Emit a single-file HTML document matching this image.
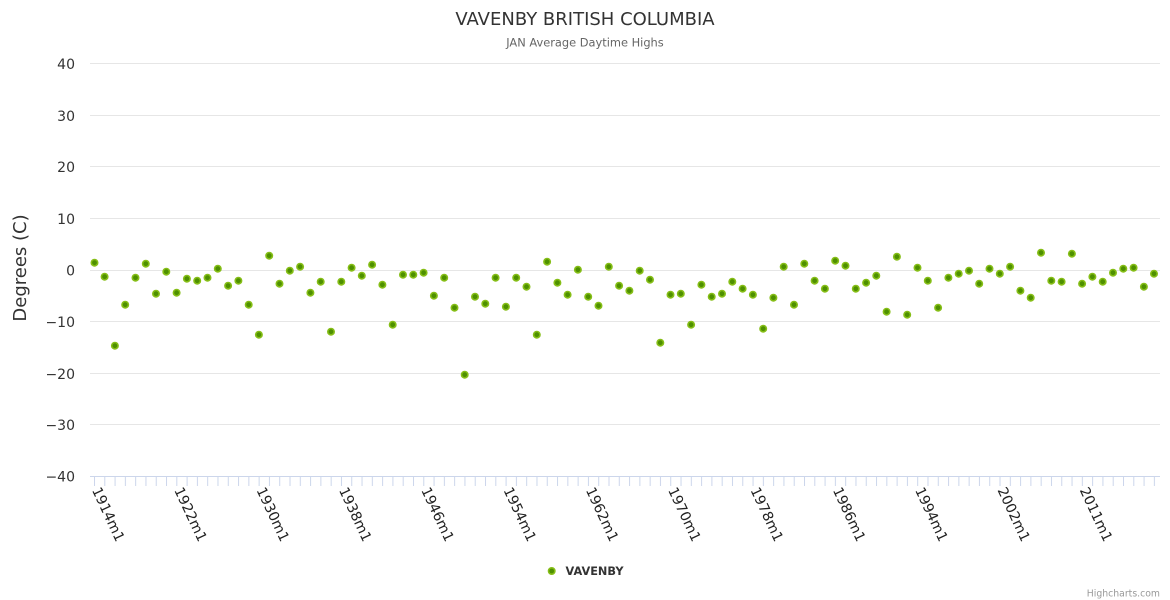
<!DOCTYPE html>
<html>
<head>
<meta charset="utf-8">
<style>
html,body{margin:0;padding:0;background:#fff}
svg{display:block;font-family:"DejaVu Sans","Liberation Sans",sans-serif}
</style>
</head>
<body>
<svg width="1170" height="600" viewBox="0 0 1170 600" xmlns="http://www.w3.org/2000/svg">
<defs>
<marker id="dot" markerUnits="userSpaceOnUse" markerWidth="10" markerHeight="10" refX="5" refY="5" overflow="visible">
<circle cx="5" cy="5" r="3.2" fill="#4e9000" stroke="#86be17" stroke-width="1.6"/>
</marker>
<pattern id="tick" patternUnits="userSpaceOnUse" x="94" y="476" width="10.29" height="10">
<rect x="0" y="0" width="1" height="10" fill="#ccd6eb"/>
</pattern>
</defs>
<rect width="1170" height="600" fill="#fff"/>
<text x="585" y="25" text-anchor="middle" font-size="18" fill="#333">VAVENBY BRITISH COLUMBIA</text>
<text x="585" y="46.5" text-anchor="middle" font-size="11.4" fill="#666">JAN Average Daytime Highs</text>
<path d="M90 63.5H1160M90 115.5H1160M90 166.5H1160M90 218.5H1160M90 270.5H1160M90 321.5H1160M90 373.5H1160M90 424.5H1160" stroke="#e6e6e6" stroke-width="1" fill="none"/>
<rect x="90" y="476" width="1066" height="10" fill="url(#tick)"/>
<path d="M90 476.5H1160" stroke="#ccd6eb" stroke-width="1" fill="none"/>
<g font-size="14" fill="#333" text-anchor="end">
<text x="75" y="69">40</text>
<text x="75" y="121">30</text>
<text x="75" y="172">20</text>
<text x="75" y="224">10</text>
<text x="75" y="275.5">0</text>
<text x="75" y="327">−10</text>
<text x="75" y="379">−20</text>
<text x="75" y="430">−30</text>
<text x="75" y="481.5">−40</text>
</g>
<text x="26" y="268" text-anchor="middle" font-size="18" fill="#333" transform="rotate(-90 26 268)">Degrees (C)</text>
<g font-size="14" fill="#222">
<text x="91.7" y="490" transform="rotate(65 91.7 490)">1914m1</text>
<text x="174" y="490" transform="rotate(65 174 490)">1922m1</text>
<text x="256.3" y="490" transform="rotate(65 256.3 490)">1930m1</text>
<text x="338.7" y="490" transform="rotate(65 338.7 490)">1938m1</text>
<text x="421" y="490" transform="rotate(65 421 490)">1946m1</text>
<text x="503.3" y="490" transform="rotate(65 503.3 490)">1954m1</text>
<text x="585.6" y="490" transform="rotate(65 585.6 490)">1962m1</text>
<text x="667.9" y="490" transform="rotate(65 667.9 490)">1970m1</text>
<text x="750.3" y="490" transform="rotate(65 750.3 490)">1978m1</text>
<text x="832.6" y="490" transform="rotate(65 832.6 490)">1986m1</text>
<text x="914.9" y="490" transform="rotate(65 914.9 490)">1994m1</text>
<text x="997.2" y="490" transform="rotate(65 997.2 490)">2002m1</text>
<text x="1079.5" y="490" transform="rotate(65 1079.5 490)">2011m1</text>
</g>
<path fill="none" stroke="none" marker-start="url(#dot)" marker-mid="url(#dot)" marker-end="url(#dot)" d="M94.5,262.7 104.6,276.7 114.9,345.7 125.2,304.7 135.5,277.7 145.8,263.7 156,293.7 166.3,271.7 176.6,292.7 186.9,278.7 197.2,280.7 207.5,277.7 217.8,268.7 228.1,285.7 238.4,280.7 248.7,304.7 258.9,334.7 269.2,255.7 279.5,283.7 289.8,270.7 300.1,266.7 310.4,292.7 320.7,281.7 331,331.7 341.3,281.7 351.6,267.7 361.8,275.7 372.1,264.7 382.4,284.7 392.7,324.7 403,274.7 413.3,274.7 423.6,272.7 433.9,295.7 444.2,277.7 454.5,307.7 464.7,374.7 475,296.7 485.3,303.7 495.6,277.7 505.9,306.7 516.2,277.7 526.5,286.7 536.8,334.7 547.1,261.7 557.4,282.7 567.6,294.7 577.9,269.7 588.2,296.7 598.5,305.7 608.8,266.7 619.1,285.7 629.4,290.7 639.7,270.7 650,279.7 660.3,342.7 670.5,294.7 680.8,293.7 691.1,324.7 701.4,284.7 711.7,296.7 722,293.7 732.3,281.7 742.6,288.7 752.9,294.7 763.2,328.7 773.4,297.7 783.7,266.7 794,304.7 804.3,263.7 814.6,280.7 824.9,288.7 835.2,260.7 845.5,265.7 855.8,288.7 866.1,282.7 876.3,275.7 886.6,311.7 896.9,256.7 907.2,314.7 917.5,267.7 927.8,280.7 938.1,307.7 948.4,277.7 958.7,273.7 969,270.7 979.2,283.7 989.5,268.7 999.8,273.7 1010.1,266.7 1020.4,290.7 1030.7,297.7 1041,252.7 1051.3,280.7 1061.6,281.7 1071.9,253.7 1082.1,283.7 1092.4,276.7 1102.7,281.7 1113,272.7 1123.3,268.7 1133.6,267.7 1143.9,286.7 1154,273.7"/>
<circle cx="551.7" cy="571" r="3.2" fill="#4e9000" stroke="#86be17" stroke-width="1.6"/>
<text x="565.5" y="575" font-size="11.3" font-weight="bold" fill="#333">VAVENBY</text>
<text x="1160" y="596.5" text-anchor="end" font-size="9.3" fill="#999">Highcharts.com</text>
</svg>
</body>
</html>
